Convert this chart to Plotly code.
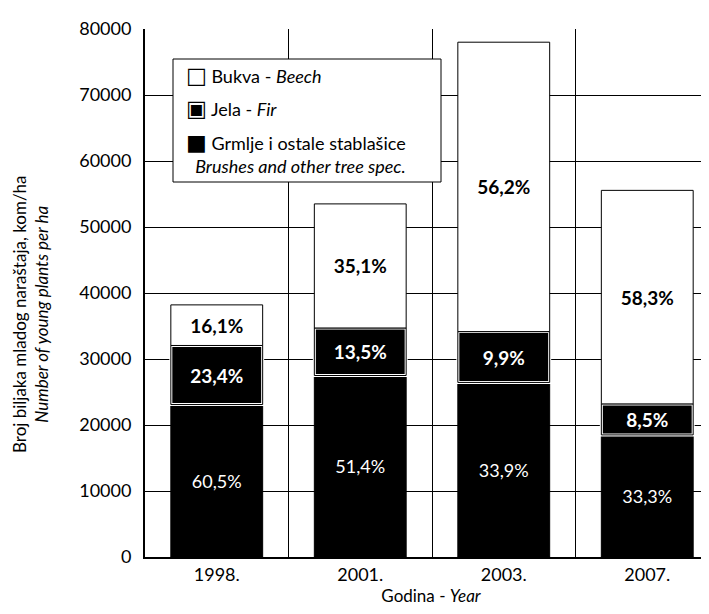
import numpy as np
import plotly.graph_objects as go

years = ["1998.", "2001.", "2003.", "2007."]
brush = [23100, 27500, 26450, 18500]
fir = [8950, 7200, 7700, 4700]
beech = [6150, 18800, 43850, 32350]
brush_pct = ["60,5%", "51,4%", "33,9%", "33,3%"]
fir_pct = ["23,4%", "13,5%", "9,9%", "8,5%"]
beech_pct = ["16,1%", "35,1%", "56,2%", "58,3%"]
y_ticks = [0, 10000, 20000, 30000, 40000, 50000, 60000, 70000, 80000]

FONT = "Lato, 'DejaVu Sans', sans-serif"
BW = 0.64

fir_base = np.array(brush)
beech_base = np.array(brush) + np.array(fir)

fig = go.Figure()
fig.add_trace(go.Bar(
    x=years, y=brush, base=[0] * len(years), width=BW, name="Grmlje i ostale stablašice",
    marker=dict(color="black", line=dict(color="black", width=1)),
    text=brush_pct, textposition="inside", insidetextanchor="middle",
    textfont=dict(color="white", size=18, family=FONT), showlegend=False,
))
fig.add_trace(go.Bar(
    x=years, y=fir, base=fir_base, width=BW, name="Jela - Fir",
    marker=dict(color="black", line=dict(color="white", width=3)),
    text=fir_pct, textposition="inside", insidetextanchor="middle",
    textfont=dict(color="white", size=19, family=FONT, weight="bold"), showlegend=False,
))
fig.add_trace(go.Bar(
    x=years, y=fir, base=fir_base, width=BW, name="Jela outline",
    marker=dict(color="rgba(0,0,0,0)", line=dict(color="black", width=1)),
    hoverinfo="skip", showlegend=False,
))
fig.add_trace(go.Bar(
    x=years, y=beech, base=beech_base, width=BW, name="Bukva - Beech",
    marker=dict(color="white", line=dict(color="black", width=1)),
    text=beech_pct, textposition="inside", insidetextanchor="middle",
    textfont=dict(color="black", size=19, family=FONT, weight="bold"), showlegend=False,
))

L, R, T, B = 137, 0, 21, 65
W, H = 709, 614
pw, ph = W - L - R, H - T - B


def px(xp):
    return (xp - L) / pw


def py(yp):
    return (H - B - yp) / ph


SYM = "<span style='font-family:DejaVu Sans;font-size:22px'>{}</span>"

fig.update_layout(
    width=W, height=H, barmode="overlay",
    margin=dict(l=L, r=R, t=T, b=B),
    paper_bgcolor="white", plot_bgcolor="white",
    font=dict(family=FONT, color="black", size=16),
    xaxis=dict(
        type="category", tickson="boundaries", range=[-0.5, 3.486],
        showgrid=True, gridcolor="black", gridwidth=1,
        showline=True, linecolor="black", linewidth=2,
        ticks="", tickfont=dict(size=18),
        title=dict(text="Godina - <i>Year</i>", font=dict(size=17), standoff=6),
    ),
    yaxis=dict(
        range=[0, 80000], tickvals=y_ticks, ticktext=[str(v) for v in y_ticks],
        showgrid=True, gridcolor="black", gridwidth=1,
        showline=True, linecolor="black", linewidth=2, zeroline=False,
        ticks="", tickfont=dict(size=18), ticklabelstandoff=8,
    ),
    shapes=[dict(
        type="rect", xref="paper", yref="paper", layer="above",
        x0=px(165), x1=px(433), y0=py(174), y1=py(51),
        fillcolor="white", line=dict(color="black", width=1),
    )],
    annotations=[
        dict(text=SYM.format("□") + " Bukva - <i>Beech</i>", x=px(176), y=py(68), xref="paper", yref="paper",
             xanchor="left", yanchor="middle", showarrow=False, font=dict(size=18)),
        dict(text=SYM.format("▣") + " Jela - <i>Fir</i>", x=px(176), y=py(101), xref="paper", yref="paper",
             xanchor="left", yanchor="middle", showarrow=False, font=dict(size=18)),
        dict(text=SYM.format("■") + " Grmlje i ostale stablašice<br>&nbsp;&nbsp;<i>Brushes and other tree spec.</i>",
             x=px(176), y=py(146), xref="paper", yref="paper", align="left",
             xanchor="left", yanchor="middle", showarrow=False, font=dict(size=18)),
        dict(text="Broj biljaka mladog naraštaja, kom/ha<br><i>Number of young plants per ha</i>",
             x=px(22), y=py(306), xref="paper", yref="paper", textangle=-90,
             xanchor="center", yanchor="middle", showarrow=False, font=dict(size=17)),
    ],
)

fig.write_html("out.html")
